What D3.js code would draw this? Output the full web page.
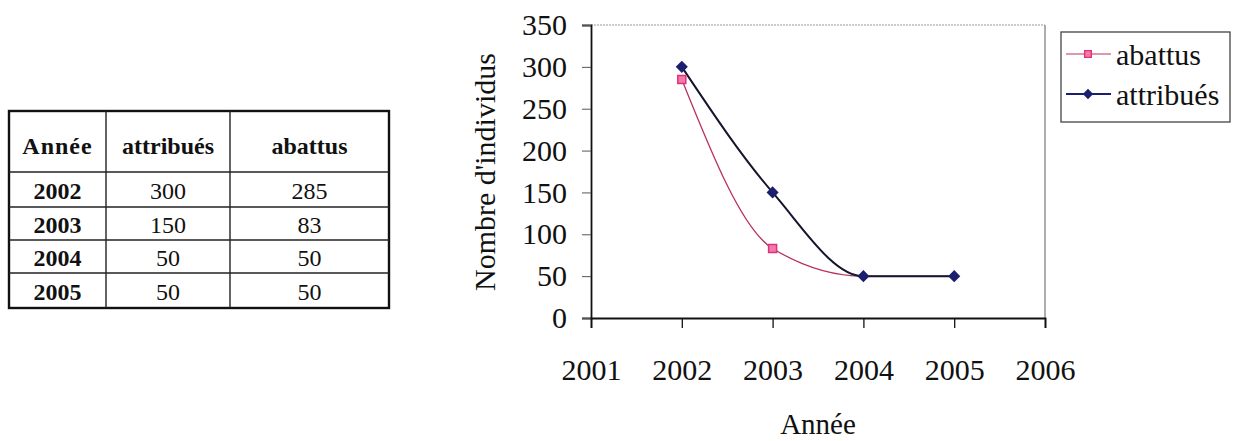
<!DOCTYPE html>
<html>
<head>
<meta charset="utf-8">
<script src="https://cdn.jsdelivr.net/npm/d3@7"></script>
<style>
  html, body { margin: 0; padding: 0; background: #fff; }
  svg { display: block; }
</style>
</head>
<body>
<svg id="chart" width="1235" height="441"></svg>
<script>
// ---- data ----
const years = [2002, 2003, 2004, 2005];
const attribues = [300, 150, 50, 50];
const abattus = [285, 83, 50, 50];
const yTicks = [0, 50, 100, 150, 200, 250, 300, 350];
const xTicks = [2001, 2002, 2003, 2004, 2005, 2006];
const tableHeaders = ["Année", "attribués", "abattus"];
const seriesNames = ["abattus", "attribués"];

(function () {
const svg = d3.select("#chart");
const serif = "'Liberation Serif', 'DejaVu Serif', serif";

// ---- table ----
const tbl = svg.append("g");
const colX = [9, 106, 230, 389];
const rowY = [111, 172, 207, 240, 273, 308];
const rows = years.map((yr, i) => [String(yr), String(attribues[i]), String(abattus[i])]);
const allRows = [tableHeaders].concat(rows);

tbl.append("rect").attr("x", colX[0]).attr("y", rowY[0])
  .attr("width", colX[3] - colX[0]).attr("height", rowY[5] - rowY[0])
  .attr("fill", "none").attr("stroke", "#111").attr("stroke-width", 2.4);
colX.slice(1, 3).forEach(cx => tbl.append("line").attr("x1", cx).attr("x2", cx)
  .attr("y1", rowY[0]).attr("y2", rowY[5]).attr("stroke", "#222").attr("stroke-width", 1.4));
rowY.slice(1, 5).forEach(ry => tbl.append("line").attr("x1", colX[0]).attr("x2", colX[3])
  .attr("y1", ry).attr("y2", ry).attr("stroke", "#222").attr("stroke-width", 1.4));

allRows.forEach((r, ri) => {
  r.forEach((txt, ci) => {
    const bold = ri === 0 || ci === 0;
    tbl.append("text")
      .attr("x", (colX[ci] + colX[ci + 1]) / 2)
      .attr("y", (rowY[ri] + rowY[ri + 1]) / 2 + (ri === 0 ? 4 : 1))
      .attr("text-anchor", "middle")
      .attr("dominant-baseline", "central")
      .attr("font-family", serif)
      .attr("font-size", 24)
      .attr("font-weight", bold ? "bold" : "normal")
      .attr("letter-spacing", ri === 0 && ci === 0 ? 1 : 0)
      .attr("fill", "#111")
      .text(txt);
  });
});

// ---- chart ----
const pL = 591, pR = 1045, pT = 25, pB = 318;
const x = d3.scaleLinear().domain([2001, 2006]).range([pL, pR]);
const y = d3.scaleLinear().domain([0, 350]).range([pB, pT]);

// plot frame (top and right)
svg.append("line").attr("x1", pL).attr("x2", pR).attr("y1", pT).attr("y2", pT)
  .attr("stroke", "#999").attr("stroke-width", 1.2).attr("stroke-dasharray", "2,1");
svg.append("line").attr("x1", pR).attr("x2", pR).attr("y1", pT).attr("y2", pB)
  .attr("stroke", "#777").attr("stroke-width", 1.2);

// y axis
const yAxis = d3.axisLeft(y).tickValues(yTicks).tickSize(9).tickPadding(15).tickFormat(d3.format("d"));
const gy = svg.append("g").attr("transform", `translate(${pL},0)`).call(yAxis);
gy.select(".domain").attr("stroke", "#111").attr("stroke-width", 1.8);
gy.selectAll(".tick line").attr("stroke", "#555").attr("stroke-width", 1);
gy.selectAll(".tick text").attr("font-family", serif).attr("font-size", 30).attr("fill", "#111");

// x axis
const xAxis = d3.axisBottom(x).tickValues(xTicks).tickSize(10).tickPadding(31).tickFormat(d3.format("d"));
const gx = svg.append("g").attr("transform", `translate(0,${pB})`).call(xAxis);
gx.select(".domain").attr("stroke", "#111").attr("stroke-width", 1.8);
gx.selectAll(".tick line").attr("stroke", "#111").attr("stroke-width", 1.3);
gx.selectAll(".tick text").attr("font-family", serif).attr("font-size", 30).attr("fill", "#111");

// axis titles
svg.append("text").attr("x", (pL + pR) / 2).attr("y", 434)
  .attr("text-anchor", "middle")
  .attr("font-family", serif).attr("font-size", 29).attr("fill", "#111").text("Année");
svg.append("text").attr("transform", `translate(484,172) rotate(-90)`)
  .attr("text-anchor", "middle").attr("dominant-baseline", "central")
  .attr("font-family", serif).attr("font-size", 30).attr("fill", "#111").text("Nombre d'individus");

// lines
const line = d3.line().x(d => x(d[0])).y(d => y(d[1])).curve(d3.curveMonotoneX);
const abData = years.map((yr, i) => [yr, abattus[i]]);
const atData = years.map((yr, i) => [yr, attribues[i]]);

const pinkLine = "#b8325e", pinkMark = "#e0307e", navy = "#1c1f6e", navyLine = "#15152e";

svg.append("path").datum(abData).attr("d", line).attr("fill", "none")
  .attr("stroke", pinkLine).attr("stroke-width", 1.3);
svg.append("path").datum(atData).attr("d", line).attr("fill", "none")
  .attr("stroke", navyLine).attr("stroke-width", 2);

const sq = d3.symbol().type(d3.symbolSquare).size(64);
const dia = d3.symbol().type(d3.symbolSquare).size(50);

svg.selectAll(".mab").data(abData.slice(0, 2)).enter().append("path")
  .attr("transform", d => `translate(${x(d[0])},${y(d[1])})`)
  .attr("d", sq).attr("fill", "#f07aa8").attr("stroke", pinkMark).attr("stroke-width", 1.5);
svg.selectAll(".mat").data(atData).enter().append("path")
  .attr("transform", d => `translate(${x(d[0])},${y(d[1])}) rotate(45)`)
  .attr("d", dia).attr("fill", navy).attr("stroke", navy).attr("stroke-width", 1.5);

// legend
const lg = svg.append("g");
lg.append("rect").attr("x", 1061).attr("y", 32).attr("width", 169).attr("height", 90)
  .attr("fill", "#fff").attr("stroke", "#444").attr("stroke-width", 1.3);
const legendY = [54, 94];
seriesNames.forEach((name, i) => {
  const ly = legendY[i];
  const isAb = name === "abattus";
  lg.append("line").attr("x1", 1066).attr("x2", 1111).attr("y1", ly).attr("y2", ly)
    .attr("stroke", isAb ? pinkLine : navy).attr("stroke-width", isAb ? 1.2 : 2);
  lg.append("path").attr("transform", `translate(1088,${ly})` + (isAb ? "" : " rotate(45)"))
    .attr("d", d3.symbol().type(d3.symbolSquare).size(isAb ? 45 : 36)())
    .attr("fill", isAb ? "#f07aa8" : navy).attr("stroke", isAb ? pinkMark : navy).attr("stroke-width", 1.3);
  lg.append("text").attr("x", 1116).attr("y", ly).attr("dominant-baseline", "central")
    .attr("font-family", serif).attr("font-size", 30).attr("fill", "#111").text(name);
});
})();
</script>
</body>
</html>
